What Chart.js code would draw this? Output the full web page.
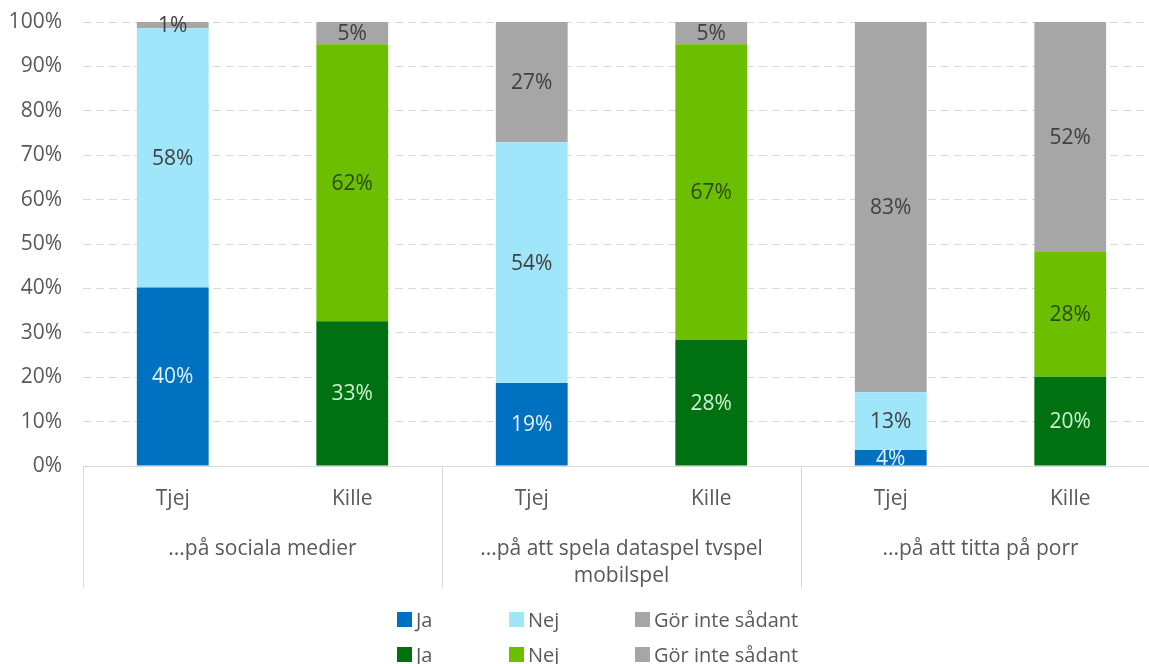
<!DOCTYPE html>
<html>
<head>
<meta charset="utf-8">
<script src="https://cdn.jsdelivr.net/npm/chart.js@4"></script>
<style>
  html, body { margin: 0; padding: 0; background: #fff; overflow: hidden; }
  #wrap { position: relative; width: 1160px; height: 664px; }
  #legend {
    position: absolute; left: 397px; top: 607px;
    display: grid; grid-template-columns: 112px 126px auto; row-gap: 10px;
    font-family: "Open Sans", sans-serif; font-size: 20px; color: #595959;
  }
  #legend .item { display: flex; align-items: center; height: 25px; }
  #legend .box { width: 15px; height: 15px; margin-right: 4px; }
</style>
</head>
<body>
<div id="wrap">
  <canvas id="chart" width="1160" height="664"></canvas>
  <div id="legend"></div>
</div>
<script>
const categories = ['Tjej', 'Kille', 'Tjej', 'Kille', 'Tjej', 'Kille'];
const groups = ['...på sociala medier', ['...på att spela dataspel tvspel', 'mobilspel'], '...på att titta på porr'];
const yTicks = [0, 10, 20, 30, 40, 50, 60, 70, 80, 90, 100];

// Tjej (girls) series, null where the bar belongs to Kille
const tjejJa = [40.2, null, 18.7, null, 3.6, null];
const tjejNej = [58.4, null, 54.2, null, 13.0, null];
const tjejGor = [1.4, null, 27.1, null, 83.4, null];
// Kille (boys) series
const killeJa = [null, 32.6, null, 28.4, null, 20.1];
const killeNej = [null, 62.4, null, 66.6, null, 28.1];
const killeGor = [null, 5.0, null, 5.0, null, 51.8];

const FONT = '"Open Sans", sans-serif';
const TXT = '#595959';
const GRID = '#d9d9d9';

const datasets = [
  { label: 'Ja', data: tjejJa, backgroundColor: '#0070c0', labelColor: '#e3f1ff' },
  { label: 'Nej', data: tjejNej, backgroundColor: '#a0e6fb', labelColor: '#404040' },
  { label: 'Gör inte sådant', data: tjejGor, backgroundColor: '#a6a6a6', labelColor: '#404040' },
  { label: 'Ja', data: killeJa, backgroundColor: '#007010', labelColor: '#cdf5cd' },
  { label: 'Nej', data: killeNej, backgroundColor: '#6cbf00', labelColor: '#2c4a14' },
  { label: 'Gör inte sådant', data: killeGor, backgroundColor: '#a6a6a6', labelColor: '#404040' }
];

// percentage text inside every segment
const segmentLabels = {
  id: 'segmentLabels',
  afterDatasetsDraw(chart) {
    const ctx = chart.ctx;
    ctx.save();
    ctx.font = '21px ' + FONT;
    ctx.textAlign = 'center';
    ctx.textBaseline = 'middle';
    chart.data.datasets.forEach((ds, i) => {
      chart.getDatasetMeta(i).data.forEach((bar, j) => {
        const v = ds.data[j];
        if (v === null) return;
        ctx.fillStyle = ds.labelColor;
        ctx.fillText(Math.round(v) + '%', bar.x, (bar.y + bar.base) / 2 + 1);
      });
    });
    ctx.restore();
  }
};

// vertical separators between the groups under the axis
const groupLines = {
  id: 'groupLines',
  afterDraw(chart) {
    const x = chart.scales.x;
    const half = (x.getPixelForValue(1) - x.getPixelForValue(0)) / 2;
    const ctx = chart.ctx;
    const top = chart.chartArea.bottom;
    ctx.save();
    ctx.strokeStyle = GRID;
    ctx.lineWidth = 1;
    for (let i = 0; i <= categories.length; i += 2) {
      const px = Math.round(x.getPixelForValue(i) - half) + 0.5;
      ctx.beginPath();
      ctx.moveTo(px, top);
      ctx.lineTo(px, top + 122);
      ctx.stroke();
    }
    ctx.restore();
  }
};

const chart = new Chart(document.getElementById('chart'), {
  type: 'bar',
  data: { labels: categories, datasets: datasets },
  options: {
    responsive: false,
    animation: false,
    events: [],
    datasets: { bar: { categoryPercentage: 1, barPercentage: 0.4 } },
    layout: { padding: { top: 0, right: 0, bottom: 68, left: 0 } },
    plugins: { legend: { display: false }, tooltip: { enabled: false } },
    scales: {
      y: {
        stacked: true, min: 0, max: 100,
        afterFit: s => { s.width = 83; s.paddingTop = 22; },
        afterBuildTicks: s => { s.ticks = yTicks.map(v => ({ value: v })); },
        grid: {
          drawTicks: false,
          color: c => c.tick && c.tick.value === 0 ? 'rgba(0,0,0,0)' : GRID,
          lineWidth: 1
        },
        border: { display: false, dash: [8, 5] },
        ticks: { padding: 21, color: TXT, font: { family: FONT, size: 21 }, callback: v => v + '%' }
      },
      x: {
        stacked: true,
        afterFit: s => { s.height = 60; },
        grid: { display: false },
        border: { display: true, color: GRID },
        ticks: { padding: 12, color: TXT, font: { family: FONT, size: 21 }, maxRotation: 0 }
      },
      x2: {
        type: 'category',
        position: 'bottom',
        labels: groups,
        offset: true,
        afterFit: s => { s.height = 70; },
        grid: { display: false },
        border: { display: false },
        ticks: { padding: 1, color: TXT, font: { family: FONT, size: 21, lineHeight: 1.3 }, maxRotation: 0, autoSkip: false }
      }
    }
  },
  plugins: [segmentLabels, groupLines]
});

// two-row legend built from the datasets
const legend = document.getElementById('legend');
chart.data.datasets.forEach(ds => {
  const item = document.createElement('div');
  item.className = 'item';
  const box = document.createElement('span');
  box.className = 'box';
  box.style.background = ds.backgroundColor;
  const txt = document.createElement('span');
  txt.textContent = ds.label;
  item.appendChild(box);
  item.appendChild(txt);
  legend.appendChild(item);
});
</script>
</body>
</html>
